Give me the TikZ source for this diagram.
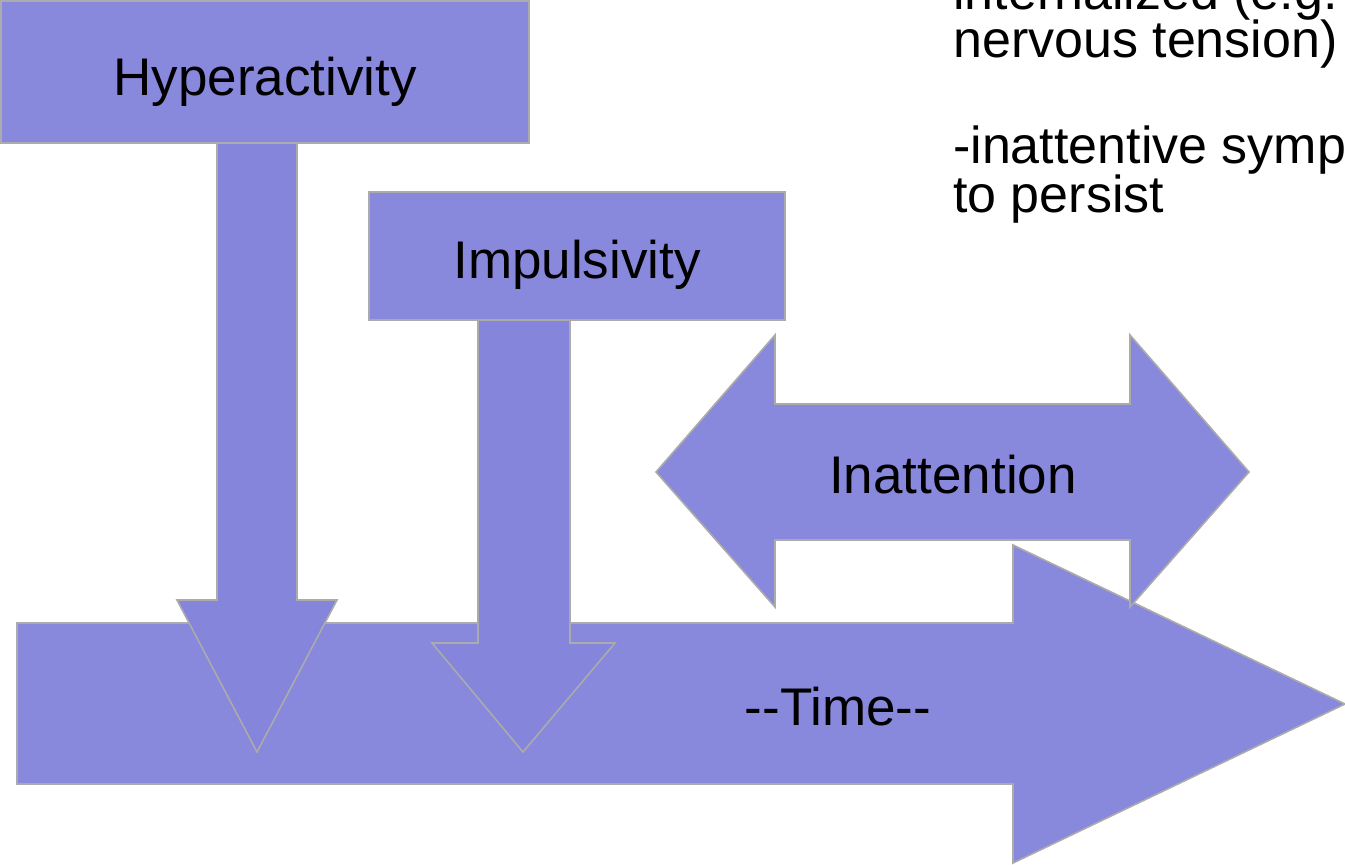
\documentclass[tikz,border=0pt]{standalone}
\usepackage{fontspec}
\setmainfont{Liberation Sans}[Ligatures=NoCommon]
\definecolor{shapefill}{HTML}{8888DD}
\definecolor{shapefilltwo}{HTML}{8585DC}
\definecolor{shapeline}{HTML}{ABABAB}
\begin{document}
\begin{tikzpicture}[x=1pt,y=-1pt,
  shp/.style={fill=shapefill, draw=shapeline, line width=1.6pt, line join=miter},
  shptwo/.style={shp, fill=shapefilltwo},
  lbl/.style={font=\fontsize{53}{48}\selectfont, inner sep=0pt, text=black, anchor=base},
  side/.style={font=\fontsize{52}{48}\selectfont, inner sep=0pt, text=black, anchor=base west}]
\useasboundingbox (0,0) rectangle (1345,865);
\clip (0,0) rectangle (1345,865);
% Time arrow
\draw[shp] (17,623) -- (1013,623) -- (1013,545) -- (1345,704) -- (1013,863) -- (1013,784) -- (17,784) -- cycle;
\node[lbl] (time) at (838,725) {-{}-Time-{}-};
% Inattention double arrow
\draw[shp] (656,472) -- (775,335) -- (775,404) -- (1130,404) -- (1130,335) -- (1249,472) -- (1130,607) -- (1130,540) -- (775,540) -- (775,607) -- cycle;
\node[lbl] (inatt) at (953,493) {Inattention};
% Hyperactivity
\draw[shptwo] (217,143) -- (297,143) -- (297,600) -- (337,600) -- (257,752) -- (177,600) -- (217,600) -- cycle;
\draw[shp] (1,1) rectangle (529,143);
\node[lbl] (hyper) at (265,95) {Hyperactivity};
% Impulsivity
\draw[shptwo] (478,320) -- (570,320) -- (570,643) -- (615,643) -- (523,752) -- (432,643) -- (478,643) -- cycle;
\draw[shp] (369,192) rectangle (785,320);
\node[lbl] (impuls) at (577,278) {Impulsivity};
% side text (cut off at the picture's edges, as in the reference)
\node[side] (l1) at (953,9) {internalized (e.g.};
\node[side] (l2) at (953,57) {nervous tension)};
\node[side] (l3) at (953,163) {-inattentive symptoms};
\node[side] (l4) at (953,212) {to persist};
\end{tikzpicture}
\end{document}
